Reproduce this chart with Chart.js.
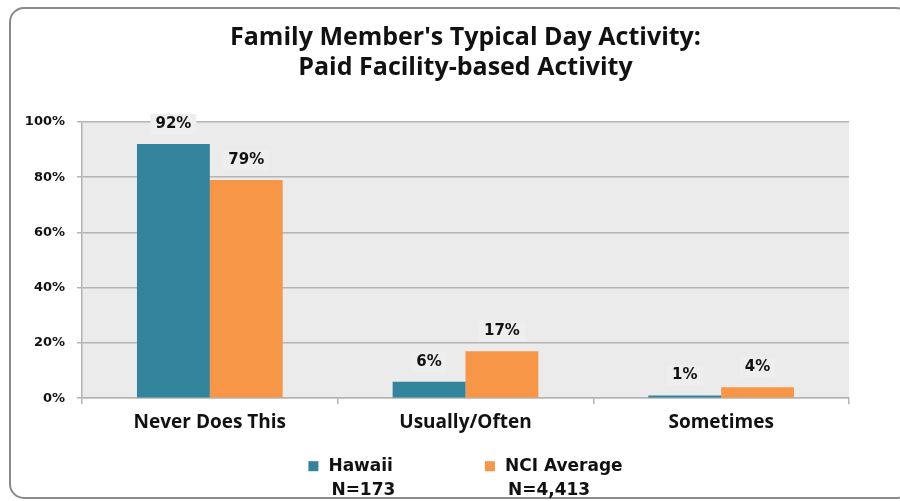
<!DOCTYPE html>
<html>
<head>
<meta charset="utf-8">
<script src="https://cdn.jsdelivr.net/npm/chart.js@4.4.1/dist/chart.umd.min.js"></script>
<style>
  html, body { margin: 0; padding: 0; background: #ffffff; }
  #wrap { width: 900px; height: 501px; }
</style>
</head>
<body>
<div id="wrap"><canvas id="chart" width="900" height="501"></canvas></div>
<script>
const categories = ['Never Does This', 'Usually/Often', 'Sometimes'];
const hawaiiValues = [92, 6, 1];
const nciValues = [79, 17, 4];
const seriesNames = ['Hawaii', 'NCI Average'];
const sampleSizes = ['N=173', 'N=4,413'];
const yTicks = [0, 20, 40, 60, 80, 100];
const titleLines = ["Family Member's Typical Day Activity:", 'Paid Facility-based Activity'];

const TEAL = '#31849b';
const ORANGE = '#f79646';
const GRID = '#b4b4b4';

// gray plot area + rounded outer frame
const backdrop = {
  id: 'backdrop',
  beforeDraw(chart) {
    const { ctx, chartArea: a } = chart;
    ctx.save();
    ctx.fillStyle = '#ebebeb';
    ctx.fillRect(a.left, a.top, a.right - a.left, a.bottom - a.top);
    ctx.restore();
  },
  afterDraw(chart) {
    const ctx = chart.ctx;
    ctx.save();
    ctx.strokeStyle = '#8a8a8a';
    ctx.lineWidth = 2;
    ctx.beginPath();
    ctx.roundRect(10, 8, 900, 490, 14);
    ctx.stroke();
    ctx.restore();
  }
};

// value labels above each bar
const barLabels = {
  id: 'barLabels',
  afterDatasetsDraw(chart) {
    const ctx = chart.ctx;
    ctx.save();
    ctx.font = 'bold 15px "DejaVu Sans"';
    ctx.textAlign = 'center';
    ctx.textBaseline = 'middle';
    chart.data.datasets.forEach((ds, di) => {
      chart.getDatasetMeta(di).data.forEach((bar, i) => {
        const txt = ds.data[i] + '%';
        const y = bar.y - 20;
        const w = ctx.measureText(txt).width + 10;
        ctx.fillStyle = '#eeeeee';
        ctx.fillRect(bar.x - w / 2, y - 10, w, 20);
        ctx.fillStyle = '#111111';
        ctx.fillText(txt, bar.x, y);
      });
    });
    ctx.restore();
  }
};

// legend with sample size under each name
const nLegend = {
  id: 'nLegend',
  afterDraw(chart) {
    const { ctx, chartArea: a } = chart;
    ctx.save();
    ctx.font = 'bold 17px "DejaVu Sans"';
    ctx.textBaseline = 'middle';
    const gap = 92;
    const widths = seriesNames.map(n => 20 + ctx.measureText(n).width);
    const total = widths[0] + gap + widths[1];
    let x = (a.left + a.right) / 2 - total / 2;
    const y = a.bottom + 68;
    chart.data.datasets.forEach((ds, i) => {
      ctx.fillStyle = ds.backgroundColor;
      ctx.fillRect(x, y - 5, 10, 10);
      ctx.fillStyle = '#111111';
      ctx.fillText(seriesNames[i], x + 20, y);
      ctx.fillText(sampleSizes[i], x + 23, y + 24);
      x += widths[i] + gap;
    });
    ctx.restore();
  }
};

new Chart(document.getElementById('chart'), {
  type: 'bar',
  data: {
    labels: categories,
    datasets: [
      { label: seriesNames[0], data: hawaiiValues, backgroundColor: TEAL },
      { label: seriesNames[1], data: nciValues, backgroundColor: ORANGE },
    ],
  },
  options: {
    responsive: false,
    animation: false,
    layout: { padding: { left: 12, right: 51, top: 0, bottom: 60 } },
    datasets: {
      bar: { categoryPercentage: 0.57, barPercentage: 1 },
    },
    plugins: {
      legend: { display: false },
      tooltip: { enabled: false },
      title: {
        display: true,
        fullSize: false,
        text: titleLines,
        color: '#111111',
        font: { family: '"Open Sans"', size: 25, weight: 'bold', lineHeight: 1.2 },
        padding: { top: 23, bottom: 39 },
      },
    },
    scales: {
      x: {
        grid: { drawOnChartArea: false, color: GRID, tickLength: 6, lineWidth: 1.5 },
        border: { color: GRID, width: 1.5 },
        ticks: {
          color: '#111111',
          padding: 7,
          font: { family: '"Open Sans"', size: 19, weight: 'bold' },
        },
      },
      y: {
        min: 0,
        max: 100,
        afterFit(scale) { scale.width = 70; },
        afterBuildTicks(scale) { scale.ticks = yTicks.map(v => ({ value: v })); },
        grid: { color: GRID, tickLength: 5, lineWidth: 1.5 },
        border: { color: GRID, width: 1.5 },
        ticks: {
          color: '#111111',
          padding: 12,
          font: { family: '"DejaVu Sans"', size: 13, weight: 'bold' },
          callback: v => v + '%',
        },
      },
    },
  },
  plugins: [backdrop, barLabels, nLegend],
});
</script>
</body>
</html>
